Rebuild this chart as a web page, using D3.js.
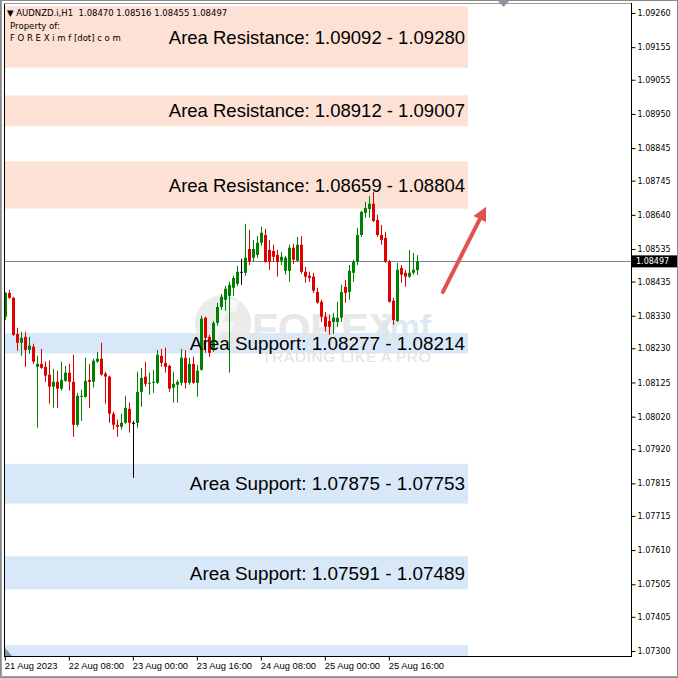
<!DOCTYPE html>
<html><head><meta charset="utf-8">
<script src="https://cdn.jsdelivr.net/npm/d3@7"></script>
<style>html,body{margin:0;padding:0;background:#fff;}svg{display:block;}</style>
</head><body>
<script>
// ---------- DATA ----------
const symbolHeader = "▼ AUDNZD.i,H1  1.08470 1.08516 1.08455 1.08497";
const firstBar = new Date(2023, 7, 21, 16);
const open  = [1.08327,1.08400,1.08385,1.08274,1.08247,1.08265,1.08225,1.08235,1.08173,1.08182,1.08173,1.08149,1.08112,1.08127,1.08106,1.08130,1.08155,1.08127,1.07995,1.08081,1.08081,1.08133,1.08127,1.08189,1.08198,1.08152,1.08143,1.08029,1.07995,1.07989,1.08001,1.08044,1.08001,1.08001,1.08096,1.08143,1.08121,1.08124,1.08124,1.08207,1.08185,1.08176,1.08109,1.08118,1.08124,1.08201,1.08124,1.08182,1.08124,1.08164,1.08324,1.08265,1.08225,1.08308,1.08357,1.08379,1.08391,1.08416,1.08428,1.08465,1.08462,1.08535,1.08508,1.08517,1.08554,1.08578,1.08532,1.08529,1.08517,1.08499,1.08468,1.08468,1.08539,1.08499,1.08548,1.08465,1.08453,1.08450,1.08403,1.08373,1.08327,1.08314,1.08311,1.08311,1.08324,1.08419,1.08403,1.08462,1.08496,1.08578,1.08646,1.08658,1.08674,1.08624,1.08578,1.08569,1.08496,1.08376,1.08314,1.08477,1.08462,1.08450,1.08462,1.08470];
const high  = [1.08403,1.08410,1.08388,1.08293,1.08281,1.08281,1.08265,1.08244,1.08207,1.08228,1.08189,1.08192,1.08167,1.08161,1.08189,1.08176,1.08182,1.08210,1.08093,1.08103,1.08201,1.08182,1.08198,1.08219,1.08247,1.08158,1.08146,1.08035,1.08011,1.08029,1.08084,1.08063,1.08007,1.08158,1.08170,1.08189,1.08155,1.08164,1.08225,1.08228,1.08232,1.08179,1.08158,1.08133,1.08228,1.08225,1.08201,1.08204,1.08179,1.08330,1.08327,1.08271,1.08314,1.08370,1.08397,1.08422,1.08434,1.08453,1.08483,1.08505,1.08612,1.08594,1.08563,1.08575,1.08603,1.08597,1.08563,1.08548,1.08532,1.08526,1.08514,1.08548,1.08551,1.08572,1.08575,1.08480,1.08465,1.08462,1.08416,1.08379,1.08342,1.08333,1.08339,1.08373,1.08425,1.08440,1.08486,1.08502,1.08600,1.08652,1.08680,1.08698,1.08710,1.08640,1.08609,1.08588,1.08502,1.08385,1.08492,1.08486,1.08471,1.08532,1.08523,1.08516];
const low   = [1.08317,1.08382,1.08268,1.08222,1.08207,1.08173,1.08213,1.08182,1.07986,1.08167,1.08127,1.08060,1.08047,1.08047,1.08100,1.08127,1.08100,1.07958,1.07989,1.08007,1.08078,1.08047,1.08109,1.08185,1.08146,1.08060,1.08001,1.07980,1.07958,1.07980,1.07998,1.07971,1.07832,1.07986,1.08050,1.08112,1.08087,1.08093,1.08121,1.08173,1.08155,1.08096,1.08063,1.08063,1.08115,1.08106,1.08118,1.08121,1.08081,1.08161,1.08216,1.08204,1.08219,1.08299,1.08348,1.08345,1.08155,1.08391,1.08422,1.08425,1.08453,1.08486,1.08496,1.08508,1.08545,1.08492,1.08471,1.08496,1.08450,1.08486,1.08456,1.08434,1.08489,1.08496,1.08459,1.08431,1.08434,1.08400,1.08367,1.08311,1.08281,1.08271,1.08274,1.08296,1.08311,1.08370,1.08379,1.08434,1.08486,1.08572,1.08631,1.08631,1.08618,1.08572,1.08548,1.08492,1.08370,1.08302,1.08311,1.08431,1.08419,1.08446,1.08456,1.08455];
const close = [1.08400,1.08385,1.08271,1.08247,1.08262,1.08225,1.08238,1.08189,1.08182,1.08170,1.08146,1.08112,1.08127,1.08106,1.08133,1.08155,1.08127,1.07995,1.08084,1.08084,1.08130,1.08127,1.08192,1.08198,1.08149,1.08143,1.08029,1.07995,1.07989,1.08001,1.08047,1.08001,1.08001,1.08096,1.08139,1.08121,1.08124,1.08127,1.08210,1.08185,1.08173,1.08106,1.08121,1.08127,1.08201,1.08124,1.08182,1.08124,1.08161,1.08321,1.08262,1.08216,1.08308,1.08357,1.08388,1.08413,1.08425,1.08446,1.08465,1.08465,1.08508,1.08496,1.08535,1.08554,1.08585,1.08496,1.08496,1.08511,1.08496,1.08511,1.08508,1.08539,1.08502,1.08548,1.08465,1.08450,1.08446,1.08407,1.08370,1.08327,1.08296,1.08296,1.08324,1.08324,1.08403,1.08400,1.08468,1.08496,1.08578,1.08649,1.08661,1.08674,1.08621,1.08578,1.08563,1.08496,1.08373,1.08317,1.08471,1.08456,1.08450,1.08462,1.08471,1.08497];
const currentPrice = 1.08497;

const zoneKinds  = ["res","res","res","sup","sup","sup","sup"];
const zoneHigh   = [1.09280,1.09007,1.08804,1.08277,1.07875,1.07591,1.07318];
const zoneLow    = [1.09092,1.08912,1.08659,1.08214,1.07753,1.07489,1.07200];
const zoneLabels = ["Area Resistance: 1.09092 - 1.09280","Area Resistance: 1.08912 - 1.09007","Area Resistance: 1.08659 - 1.08804",
                    "Area Support: 1.08277 - 1.08214","Area Support: 1.07875 - 1.07753","Area Support: 1.07591 - 1.07489",""];

const yTicks = [1.09260,1.09155,1.09055,1.08950,1.08845,1.08745,1.08640,1.08535,1.08435,1.08330,1.08230,1.08125,1.08020,1.07920,1.07815,1.07715,1.07610,1.07505,1.07405,1.07300];
const xTickBars   = [0,16,32,48,64,80,96];
const xTickLabels = ["21 Aug 2023","22 Aug 08:00","23 Aug 00:00","23 Aug 16:00","24 Aug 08:00","25 Aug 00:00","25 Aug 16:00"];

// arrow annotation (bar index, price)
const arrowFrom = [109.4, 1.08403];
const arrowTo   = [120.2, 1.08665];

// ---------- LAYOUT ----------
const W = 678, H = 678;
const L = 4, R = 631, T = 4, B = 656;
const times = d3.timeHour.range(firstBar, d3.timeHour.offset(firstBar, open.length));
const smallFont = "'DejaVu Sans', Verdana, sans-serif";

const svg = d3.select("body").append("svg").attr("width", W).attr("height", H)
  .style("font-family", "'Liberation Sans', Arial, sans-serif");

const x = d3.scaleLinear().domain([0, 1]).range([5.3, 9.3]);
const y = d3.scaleLinear().domain([1.07300, 1.09260]).range([651, 13]);

svg.append("defs").append("clipPath").attr("id", "plot")
  .append("rect").attr("x", L + 1).attr("y", T + 1).attr("width", R - L - 1).attr("height", B - T - 1);

// outer window border
svg.append("rect").attr("x", 0.5).attr("y", 0.5).attr("width", W - 1).attr("height", H - 1)
  .attr("fill", "none").attr("stroke", "#8a8a8a");
svg.append("line").attr("x1", 1.5).attr("x2", 1.5).attr("y1", 0).attr("y2", H).attr("stroke", "#a0a0a0");
svg.append("line").attr("x1", 0).attr("x2", W).attr("y1", 676.5).attr("y2", 676.5).attr("stroke", "#a0a0a0");

const plot = svg.append("g").attr("clip-path", "url(#plot)");

// zones
const zoneRightX = 468;
const zones = zoneHigh.map((h, i) => ({kind: zoneKinds[i], hi: h, lo: zoneLow[i], label: zoneLabels[i]}));
plot.selectAll("rect.zone").data(zones).join("rect").attr("class", "zone")
  .attr("x", L).attr("width", zoneRightX - L)
  .attr("y", d => y(d.hi)).attr("height", d => y(d.lo) - y(d.hi))
  .attr("fill", d => d.kind === "res" ? "#fde1d4" : "#d8e8f8");

// watermark
const wm = plot.append("g").attr("opacity", 0.9);
wm.append("circle").attr("cx", 223).attr("cy", 323).attr("r", 28).attr("fill", "#e9e9e9");
wm.append("path").attr("d", "M210,340 L222,300 L240,300 L236,312 L226,312 L223,322 L234,322 L231,332 L220,332 L217,342 Z").attr("fill", "#f6f6f6");
wm.append("text").attr("x", 252).attr("y", 343).attr("font-size", 42).attr("font-weight", "bold")
  .attr("fill", "#e6e6e6").text("FOREX");
wm.append("text").attr("x", 380).attr("y", 338).attr("font-size", 34).attr("font-weight", "bold")
  .attr("fill", "#d9e7f4").text("imf");
wm.append("text").attr("x", 262).attr("y", 362).attr("font-size", 15.5).attr("letter-spacing", 0.6)
  .attr("fill", "#e0e0e0").text("TRADING LIKE A PRO");

// current price line
plot.append("line").attr("x1", L).attr("x2", R).attr("y1", Math.round(y(currentPrice)) + 0.5).attr("y2", Math.round(y(currentPrice)) + 0.5)
  .attr("stroke", "#7a8793").attr("stroke-width", 1);

// candles
const bars = open.map((o, i) => ({i, t: times[i], o, h: high[i], l: low[i], c: close[i]}));
const col = d => d.c > d.o ? "#008000" : (d.c < d.o ? "#e00000" : "#000000");
const cg = plot.append("g");
cg.selectAll("line.wick").data(bars).join("line").attr("class", "wick")
  .attr("x1", d => Math.round(x(d.i)) + 0.5).attr("x2", d => Math.round(x(d.i)) + 0.5)
  .attr("y1", d => y(d.h)).attr("y2", d => y(d.l)).attr("stroke", col).attr("stroke-width", 1);
cg.selectAll("rect.body").data(bars).join("rect").attr("class", "body")
  .attr("x", d => Math.round(x(d.i)) - 1).attr("width", 3)
  .attr("y", d => y(Math.max(d.o, d.c))).attr("height", d => Math.max(1, Math.abs(y(d.o) - y(d.c))))
  .attr("fill", col);

// zone labels
plot.selectAll("text.zl").data(zones.filter(d => d.label)).join("text").attr("class", "zl")
  .attr("x", 465).attr("y", d => (y(d.hi) + y(d.lo)) / 2).attr("dy", "0.36em")
  .attr("text-anchor", "end").attr("font-size", d => d.kind === "res" ? 18.5 : 18.9).attr("fill", "#000")
  .text(d => d.label);

// arrow
const ax1 = x(arrowFrom[0]), ay1 = y(arrowFrom[1]), ax2 = x(arrowTo[0]), ay2 = y(arrowTo[1]);
const ang = Math.atan2(ay2 - ay1, ax2 - ax1);
const headLen = 14, headW = 7;
const bx = ax2 - headLen * Math.cos(ang), by = ay2 - headLen * Math.sin(ang);
plot.append("line").attr("x1", ax1).attr("y1", ay1).attr("x2", bx).attr("y2", by)
  .attr("stroke", "#e05252").attr("stroke-width", 4).attr("stroke-linecap", "round");
plot.append("path").attr("fill", "#e05252")
  .attr("d", `M${ax2},${ay2} L${bx + headW * Math.sin(ang)},${by - headW * Math.cos(ang)} L${bx - headW * Math.sin(ang)},${by + headW * Math.cos(ang)} Z`);

// frame
svg.append("rect").attr("x", L + 0.5).attr("y", T - 0.5).attr("width", R - L).attr("height", B - T + 1)
  .attr("fill", "none").attr("stroke", "#000");
svg.append("line").attr("x1", L).attr("x2", R).attr("y1", T - 0.5).attr("y2", T - 0.5).attr("stroke", "#999");

// y axis
const yAxis = d3.axisRight(y).tickValues(yTicks).tickSize(4).tickPadding(2).tickFormat(d3.format(".5f"));
const yg = svg.append("g").attr("transform", `translate(${R + 0.5},0)`).call(yAxis);
yg.select(".domain").remove();
yg.selectAll("text").attr("font-size", 8).attr("font-family", smallFont).attr("fill", "#000");
yg.selectAll("line").attr("stroke", "#000");

// current price tag
const cy = y(currentPrice);
svg.append("rect").attr("x", R + 1).attr("y", cy - 6).attr("width", 45).attr("height", 12).attr("fill", "#000");
svg.append("text").attr("x", R + 5).attr("y", cy).attr("dy", "0.35em").attr("font-size", 8)
  .attr("font-family", smallFont).attr("fill", "#fff")
  .text(d3.format(".5f")(currentPrice));

// x axis
const xAxis = d3.axisBottom(x).tickValues(xTickBars).tickSize(4).tickPadding(2)
  .tickFormat((d, i) => xTickLabels[i]);
const xg = svg.append("g").attr("transform", `translate(0,${B + 0.5})`).call(xAxis);
xg.select(".domain").remove();
xg.selectAll(".tick line").attr("stroke", "#000").attr("transform", "translate(-0.5,0)");
xg.selectAll("text").attr("font-size", 9.4).attr("text-anchor", "start").attr("x", -1)
  .attr("font-family", "'Liberation Sans', Arial, sans-serif").attr("fill", "#000");

// corner markers
svg.append("path").attr("d", `M${L + 1},${B - 8} L${L + 1},${B} L${L + 8},${B} Z`).attr("fill", "#8090a0");
svg.append("path").attr("d", "M497,0 L510,0 L503.5,7 Z").attr("fill", "#8c96a0");

// header
const hg = svg.append("g").attr("font-family", smallFont).attr("fill", "#000");
hg.append("text").attr("x", 7).attr("y", 16).attr("font-size", 8.5)
  .attr("xml:space", "preserve").text(symbolHeader);
hg.append("text").attr("x", 10).attr("y", 29).attr("font-size", 8.6).text("Property of:");
hg.append("text").attr("x", 10).attr("y", 41).attr("font-size", 8.5).text("F O R E X i m f [dot] c o m");
</script>
</body></html>
